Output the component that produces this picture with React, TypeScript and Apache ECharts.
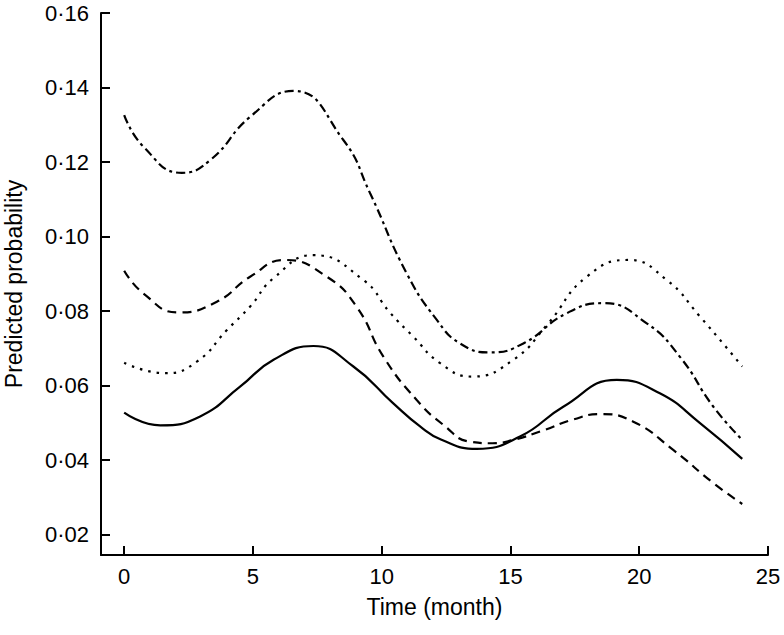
import React, { useEffect, useRef } from "react";
import * as echarts from "echarts";

// Curve readings (month, predicted probability), one pair of arrays per curve
const dashDotMonths = [0, 0.75, 2.24, 3.34, 4.89, 6.57, 8.51, 9.55, 10.97, 12.14, 13.04, 14.2, 15.5, 17.18, 18.6, 20.29, 21.58, 22.88, 24];
const dashDotValues = [0.1326, 0.1241, 0.1171, 0.1205, 0.1321, 0.1391, 0.1259, 0.1116, 0.0901, 0.0776, 0.0713, 0.0689, 0.0713, 0.0794, 0.0821, 0.0767, 0.0677, 0.0543, 0.0454];

const dashedMonths = [0, 0.75, 2.1, 3.6, 4.89, 6.25, 7.87, 9.03, 10.07, 11.36, 12.4, 13.43, 14.3, 15.11, 16.3, 17.4, 18.48, 19.77, 21.32, 22.88, 24];
const dashedValues = [0.0908, 0.0847, 0.0796, 0.0825, 0.0892, 0.0937, 0.0892, 0.0811, 0.0677, 0.0561, 0.0494, 0.0449, 0.0445, 0.0454, 0.048, 0.0508, 0.0523, 0.0503, 0.0427, 0.0338, 0.0282];

const dottedMonths = [0, 1.6, 2.82, 3.99, 4.89, 5.8, 7.35, 9.29, 10.33, 11.23, 12.27, 13.5, 15.11, 16.41, 17.96, 19.58, 21.07, 22.36, 24];
const dottedValues = [0.0661, 0.0633, 0.0664, 0.0749, 0.0812, 0.0888, 0.095, 0.0883, 0.0795, 0.0731, 0.066, 0.0624, 0.0669, 0.0762, 0.0892, 0.0937, 0.0883, 0.0785, 0.0651];

const solidMonths = [0, 1.4, 2.95, 4.5, 5.8, 7.35, 8.9, 10.45, 11.49, 12.3, 13.69, 15.37, 17.05, 19.13, 20.8, 22.36, 24];
const solidValues = [0.0527, 0.0493, 0.0517, 0.0597, 0.0669, 0.0706, 0.0651, 0.0552, 0.049, 0.0455, 0.043, 0.0463, 0.0543, 0.0615, 0.0579, 0.0499, 0.0403];

const xTicks = [0, 5, 10, 15, 20, 25];
const yTicks = [0.02, 0.04, 0.06, 0.08, 0.1, 0.12, 0.14, 0.16];

const FONT = "'Liberation Sans', Arial, sans-serif";

function mk(xs: number[], vals: number[], dash: any) {
  return {
    type: "line",
    data: xs.map((m, i) => [m, vals[i]]),
    smooth: 0.5,
    showSymbol: false,
    symbol: "none",
    lineStyle: { color: "#000", width: 2.2, type: dash },
    z: 3,
  };
}

export default function App() {
  const ref = useRef<HTMLDivElement>(null);
  useEffect(() => {
    document.body.style.margin = "0";
    const chart = echarts.init(ref.current!, undefined, { renderer: "svg" });
    const axisCommon = {
      axisLine: { show: true, onZero: false, lineStyle: { color: "#000", width: 2 } },
      axisTick: { show: true, inside: true, length: 9, lineStyle: { color: "#000", width: 2 } },
      splitLine: { show: false },
      nameMoveOverlap: false,
      nameTextStyle: { color: "#000", fontSize: 23, fontFamily: FONT },
    };
    chart.setOption({
      animation: false,
      backgroundColor: "#fff",
      grid: { left: 101, right: 16, top: 13, bottom: 80, containLabel: false, outerBoundsMode: "none" },
      xAxis: {
        type: "value",
        min: -0.9,
        max: 25,
        ...axisCommon,
        axisTick: { ...axisCommon.axisTick, customValues: xTicks },
        axisLabel: {
          customValues: xTicks,
          color: "#000",
          fontSize: 22,
          fontFamily: FONT,
          margin: 10,
        },
        name: "Time (month)",
        nameLocation: "middle",
        nameGap: 40,
      },
      yAxis: {
        type: "value",
        min: 0.0145,
        max: 0.16,
        ...axisCommon,
        axisTick: { ...axisCommon.axisTick, customValues: yTicks },
        axisLabel: {
          customValues: yTicks,
          color: "#000",
          fontSize: 22,
          fontFamily: FONT,
          margin: 12,
          formatter: (v: number) => v.toFixed(2).replace(".", "\u00b7"),
        },
        name: "Predicted probability",
        nameLocation: "middle",
        nameGap: 76,
      },
      series: [
        mk(dashDotMonths, dashDotValues, [9, 4, 3, 4]),
        mk(dashedMonths, dashedValues, [9, 6]),
        mk(dottedMonths, dottedValues, [2.5, 6]),
        mk(solidMonths, solidValues, "solid"),
      ],
    });
    return () => chart.dispose();
  }, []);
  return <div ref={ref} style={{ position: "fixed", left: 0, top: 0, width: 784, height: 635 }} />;
}
